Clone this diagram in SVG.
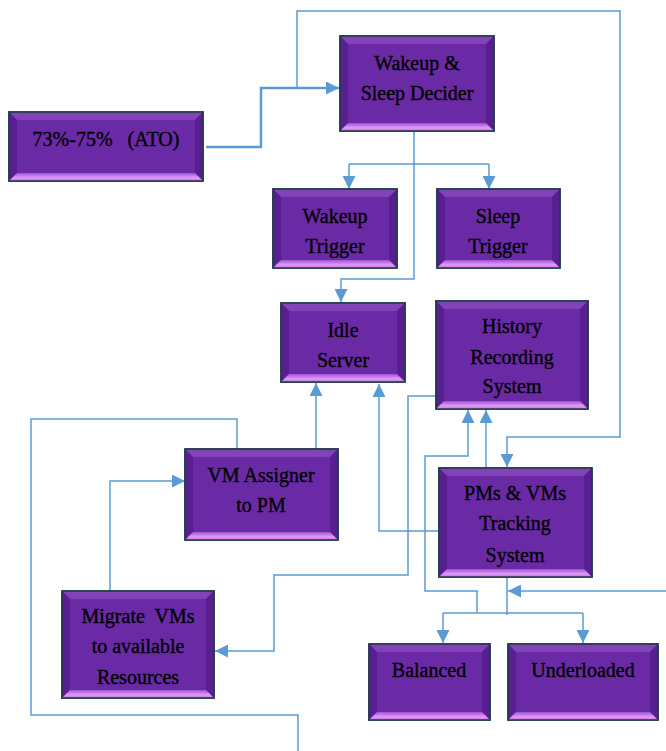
<svg xmlns="http://www.w3.org/2000/svg" width="666" height="751" viewBox="0 0 666 751">
<style>
.face{fill:#6a2aa6;stroke:#1d3b45;stroke-width:1.5}
.top{fill:#8242b8}
.side{fill:#581f90}
.bot{fill:url(#gb)}
.t{font-family:"Liberation Serif","Times New Roman",serif;font-size:20px;text-anchor:middle;fill:#000;stroke:#000;stroke-width:0.35;white-space:pre}
.c{fill:none;stroke:#5b9bd5;stroke-width:1.5}
.a{marker-end:url(#ar)}
</style>
<defs>
<linearGradient id="gb" x1="0" y1="0" x2="0" y2="1">
<stop offset="0" stop-color="#9c52d6"/>
<stop offset="0.6" stop-color="#e39af5"/>
<stop offset="1" stop-color="#c870e8"/>
</linearGradient>
<marker id="ar" viewBox="0 0 10 10" refX="10" refY="5" markerWidth="14" markerHeight="13" markerUnits="userSpaceOnUse" orient="auto">
<path d="M0,0 L10,5 L0,10 z" fill="#5b9bd5"/>
</marker>
</defs>
<g id="connectors">
<path class="c a" d="M206,147 H261 V88 H339" style="stroke-width:2.5"/>
<path class="c a" d="M297,88 V11 H620 V437 H507 V467"/>
<path class="c a" d="M414,131 V279 H341 V302"/>
<path class="c" d="M349,164 H489"/>
<path class="c a" d="M349,164 V189"/>
<path class="c a" d="M489,164 V189"/>
<path class="c a" d="M316,449 V383"/>
<path class="c a" d="M440,531 H379 V384"/>
<path class="c a" d="M436,396 H408 V575 H274 V651 H215"/>
<path class="c a" d="M486,468 V410"/>
<path class="c a" d="M478,591 H425 V456 H468 V410"/>
<path class="c" d="M237,449 V419 H31 V715 H298 V751"/>
<path class="c a" d="M110,591 V481 H185"/>
<path class="c" d="M507,577 V615"/>
<path class="c" d="M477,591 V613"/>
<path class="c" d="M443,613 H583"/>
<path class="c a" d="M443,613 V643"/>
<path class="c a" d="M583,613 V643"/>
<path class="c a" d="M666,591 H508"/>
</g>
<g id="ato">
<rect class="face" x="9" y="112" width="194" height="69"/>
<polygon class="top" points="9,112 203,112 195,120 17,120"/>
<polygon class="side" points="9,112 17,120 17,173 9,181"/>
<polygon class="side" points="203,112 195,120 195,173 203,181"/>
<polygon class="bot" points="9,181 17,173 195,173 203,181"/>
<rect x="9" y="112" width="194" height="69" fill="none" stroke="#1d3b45" stroke-width="1.5"/>
<text class="t" x="106" y="146">73%-75%   (ATO)</text>
</g>
<g id="decider">
<rect class="face" x="340" y="36" width="154" height="95"/>
<polygon class="top" points="340,36 494,36 486,44 348,44"/>
<polygon class="side" points="340,36 348,44 348,123 340,131"/>
<polygon class="side" points="494,36 486,44 486,123 494,131"/>
<polygon class="bot" points="340,131 348,123 486,123 494,131"/>
<rect x="340" y="36" width="154" height="95" fill="none" stroke="#1d3b45" stroke-width="1.5"/>
<text class="t" x="417" y="70">Wakeup &amp;</text>
<text class="t" x="417" y="100">Sleep Decider</text>
</g>
<g id="wakeup-trigger">
<rect class="face" x="273" y="189" width="124" height="79"/>
<polygon class="top" points="273,189 397,189 389,197 281,197"/>
<polygon class="side" points="273,189 281,197 281,260 273,268"/>
<polygon class="side" points="397,189 389,197 389,260 397,268"/>
<polygon class="bot" points="273,268 281,260 389,260 397,268"/>
<rect x="273" y="189" width="124" height="79" fill="none" stroke="#1d3b45" stroke-width="1.5"/>
<text class="t" x="335" y="223">Wakeup</text>
<text class="t" x="335" y="253">Trigger</text>
</g>
<g id="sleep-trigger">
<rect class="face" x="437" y="189" width="123" height="79"/>
<polygon class="top" points="437,189 560,189 552,197 445,197"/>
<polygon class="side" points="437,189 445,197 445,260 437,268"/>
<polygon class="side" points="560,189 552,197 552,260 560,268"/>
<polygon class="bot" points="437,268 445,260 552,260 560,268"/>
<rect x="437" y="189" width="123" height="79" fill="none" stroke="#1d3b45" stroke-width="1.5"/>
<text class="t" x="498" y="223">Sleep</text>
<text class="t" x="498" y="253">Trigger</text>
</g>
<g id="idle-server">
<rect class="face" x="281" y="303" width="124" height="79"/>
<polygon class="top" points="281,303 405,303 397,311 289,311"/>
<polygon class="side" points="281,303 289,311 289,374 281,382"/>
<polygon class="side" points="405,303 397,311 397,374 405,382"/>
<polygon class="bot" points="281,382 289,374 397,374 405,382"/>
<rect x="281" y="303" width="124" height="79" fill="none" stroke="#1d3b45" stroke-width="1.5"/>
<text class="t" x="343" y="337">Idle</text>
<text class="t" x="343" y="367">Server</text>
</g>
<g id="history">
<rect class="face" x="436" y="301" width="152" height="108"/>
<polygon class="top" points="436,301 588,301 580,309 444,309"/>
<polygon class="side" points="436,301 444,309 444,401 436,409"/>
<polygon class="side" points="588,301 580,309 580,401 588,409"/>
<polygon class="bot" points="436,409 444,401 580,401 588,409"/>
<rect x="436" y="301" width="152" height="108" fill="none" stroke="#1d3b45" stroke-width="1.5"/>
<text class="t" x="512" y="333">History</text>
<text class="t" x="512" y="364">Recording</text>
<text class="t" x="512" y="393">System</text>
</g>
<g id="vm-assigner">
<rect class="face" x="185" y="449" width="153" height="91"/>
<polygon class="top" points="185,449 338,449 330,457 193,457"/>
<polygon class="side" points="185,449 193,457 193,532 185,540"/>
<polygon class="side" points="338,449 330,457 330,532 338,540"/>
<polygon class="bot" points="185,540 193,532 330,532 338,540"/>
<rect x="185" y="449" width="153" height="91" fill="none" stroke="#1d3b45" stroke-width="1.5"/>
<text class="t" x="261" y="482">VM Assigner</text>
<text class="t" x="261" y="512">to PM</text>
</g>
<g id="tracking">
<rect class="face" x="439" y="468" width="153" height="109"/>
<polygon class="top" points="439,468 592,468 584,476 447,476"/>
<polygon class="side" points="439,468 447,476 447,569 439,577"/>
<polygon class="side" points="592,468 584,476 584,569 592,577"/>
<polygon class="bot" points="439,577 447,569 584,569 592,577"/>
<rect x="439" y="468" width="153" height="109" fill="none" stroke="#1d3b45" stroke-width="1.5"/>
<text class="t" x="515" y="500">PMs &amp; VMs</text>
<text class="t" x="515" y="530">Tracking</text>
<text class="t" x="515" y="562">System</text>
</g>
<g id="migrate">
<rect class="face" x="62" y="591" width="152" height="107"/>
<polygon class="top" points="62,591 214,591 206,599 70,599"/>
<polygon class="side" points="62,591 70,599 70,690 62,698"/>
<polygon class="side" points="214,591 206,599 206,690 214,698"/>
<polygon class="bot" points="62,698 70,690 206,690 214,698"/>
<rect x="62" y="591" width="152" height="107" fill="none" stroke="#1d3b45" stroke-width="1.5"/>
<text class="t" x="138" y="623">Migrate  VMs</text>
<text class="t" x="138" y="653">to available</text>
<text class="t" x="138" y="684">Resources</text>
</g>
<g id="balanced">
<rect class="face" x="369" y="644" width="121" height="76"/>
<polygon class="top" points="369,644 490,644 482,652 377,652"/>
<polygon class="side" points="369,644 377,652 377,712 369,720"/>
<polygon class="side" points="490,644 482,652 482,712 490,720"/>
<polygon class="bot" points="369,720 377,712 482,712 490,720"/>
<rect x="369" y="644" width="121" height="76" fill="none" stroke="#1d3b45" stroke-width="1.5"/>
<text class="t" x="429" y="677">Balanced</text>
</g>
<g id="underloaded">
<rect class="face" x="508" y="644" width="150" height="76"/>
<polygon class="top" points="508,644 658,644 650,652 516,652"/>
<polygon class="side" points="508,644 516,652 516,712 508,720"/>
<polygon class="side" points="658,644 650,652 650,712 658,720"/>
<polygon class="bot" points="508,720 516,712 650,712 658,720"/>
<rect x="508" y="644" width="150" height="76" fill="none" stroke="#1d3b45" stroke-width="1.5"/>
<text class="t" x="583" y="677">Underloaded</text>
</g>
</svg>
